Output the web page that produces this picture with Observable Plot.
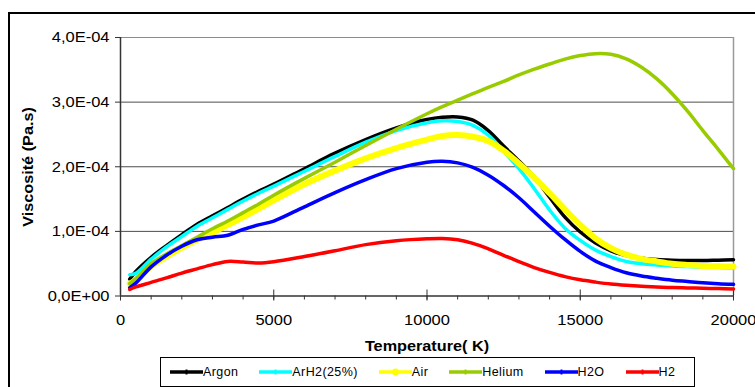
<!DOCTYPE html>
<html>
<head>
<meta charset="utf-8">
<script src="https://cdn.jsdelivr.net/npm/d3@7"></script>
<script src="https://cdn.jsdelivr.net/npm/@observablehq/plot@0.6"></script>
<style>
  html, body { margin: 0; padding: 0; background: #fff; overflow: hidden; width: 755px; height: 387px; }
  #wrap { position: relative; width: 755px; height: 387px; font-family: "Liberation Sans", Arial, sans-serif; }
  #frame { position: absolute; left: 8px; top: 12px; width: 800px; height: 420px; border: 2px solid #000; pointer-events: none; z-index: 3; }
  #chart { position: absolute; left: 0; top: 0; }
  #legend { position: absolute; left: 160px; top: 357px; width: 535px; height: 30px; border: 1px solid #000; background: #fff;
            box-sizing: border-box; display: flex; align-items: center; padding-left: 9px; z-index: 2; }
  .item { display: flex; align-items: center; margin-right: 21px; }
  .item span { font-size: 12.5px; letter-spacing: 0.4px; color: #000; line-height: 1; }
  .item svg { display: block; }
</style>
</head>
<body>
<div id="wrap">
  <div id="chart"></div>
  <div id="legend"></div>
  <div id="frame"></div>
</div>
<script>
// Temperature grid (K)
const temperatures = [300, 500, 1000, 1500, 2000, 2500, 3000, 3500, 4000, 4500, 5000, 6000, 7000, 8000, 9000, 10000,
  10500, 11000, 11500, 12000, 12500, 13000, 13500, 14000, 14500, 15000, 15500, 16000, 16500, 17000, 17500, 18000,
  18500, 19000, 19500, 20000];

// Viscosity in units of 1e-4 Pa.s
const argon  = [0.26, 0.38, 0.60, 0.78, 0.95, 1.11, 1.24, 1.37, 1.50, 1.62, 1.73, 1.97, 2.21, 2.42, 2.60, 2.73,
  2.765, 2.77, 2.72, 2.56, 2.32, 2.09, 1.84, 1.53, 1.22, 0.99, 0.82, 0.70, 0.625, 0.585, 0.565, 0.555,
  0.55, 0.55, 0.555, 0.56];
const arh2   = [0.33, 0.35, 0.57, 0.76, 0.92, 1.08, 1.21, 1.34, 1.47, 1.59, 1.70, 1.93, 2.16, 2.38, 2.56, 2.68,
  2.71, 2.70, 2.64, 2.49, 2.24, 1.97, 1.66, 1.33, 1.05, 0.86, 0.71, 0.61, 0.535, 0.50, 0.48, 0.465,
  0.455, 0.445, 0.44, 0.435];
const air    = [0.19, 0.25, 0.46, 0.61, 0.75, 0.87, 0.975, 1.10, 1.22, 1.35, 1.48, 1.73, 1.94, 2.13, 2.29, 2.42,
  2.475, 2.49, 2.465, 2.40, 2.25, 2.05, 1.83, 1.59, 1.34, 1.10, 0.89, 0.74, 0.64, 0.575, 0.535, 0.50,
  0.48, 0.465, 0.46, 0.455];
const helium = [0.19, 0.27, 0.50, 0.65, 0.78, 0.91, 1.04, 1.16, 1.29, 1.42, 1.56, 1.82, 2.07, 2.33, 2.58, 2.82,
  2.93, 3.03, 3.13, 3.23, 3.32, 3.42, 3.51, 3.59, 3.665, 3.72, 3.75, 3.74, 3.67, 3.54, 3.36, 3.13,
  2.86, 2.56, 2.27, 1.97];
const h2o    = [0.13, 0.20, 0.45, 0.63, 0.77, 0.87, 0.91, 0.94, 1.03, 1.10, 1.16, 1.38, 1.60, 1.80, 1.97, 2.07,
  2.085, 2.06, 1.99, 1.87, 1.71, 1.52, 1.30, 1.08, 0.875, 0.69, 0.54, 0.44, 0.36, 0.31, 0.275, 0.245,
  0.225, 0.205, 0.19, 0.18];
const h2     = [0.10, 0.14, 0.21, 0.28, 0.355, 0.42, 0.485, 0.535, 0.525, 0.51, 0.53, 0.61, 0.70, 0.795, 0.855, 0.885,
  0.89, 0.87, 0.815, 0.73, 0.63, 0.53, 0.44, 0.365, 0.30, 0.25, 0.215, 0.185, 0.165, 0.15, 0.14, 0.13,
  0.125, 0.12, 0.115, 0.11];

const seriesNames  = ["Argon", "ArH2(25%)", "Air", "Helium", "H2O", "H2"];
const seriesValues = [argon, arh2, air, helium, h2o, h2];
const seriesColors = ["#000000", "#00ffff", "#ffff00", "#99cc00", "#0000ff", "#ff0000"];
const seriesWidths = [3.5, 3.5, 6, 3.5, 3.5, 3.5];

const yTicks = [0, 1, 2, 3, 4];
const xMajorTicks = [0, 5000, 10000, 15000, 20000];
const xMinorTicks = d3.range(0, 20001, 1000);
const yFormat = d => d === 0 ? "0,0E+00" : d.toFixed(1).replace(".", ",") + "E-04";

const lineMarks = seriesNames.map((name, s) => {
  const data = temperatures.map((t, i) => ({T: t, v: seriesValues[s][i], name}));
  return Plot.line(data, {x: "T", y: "v", stroke: seriesColors[s], strokeWidth: seriesWidths[s], curve: "catmull-rom"});
});

const chart = Plot.plot({
  width: 755,
  height: 357,
  marginLeft: 120,
  marginRight: 22,
  marginTop: 37,
  marginBottom: 61.5,
  x: {domain: [0, 20000]},
  y: {domain: [0, 4]},
  style: {fontFamily: '"Liberation Sans", Arial, sans-serif', fontSize: "15px", color: "#000", background: "transparent", overflow: "visible"},
  marks: [
    Plot.ruleY([4], {stroke: "#8c8c8c", strokeWidth: 1}),
    Plot.ruleY([1, 2, 3], {stroke: "#4d4d4d", strokeWidth: 1}),
    Plot.ruleX([20000], {stroke: "#9a9a9a", strokeWidth: 1.5}),
    Plot.axisY({ticks: yTicks, tickSize: 5, tickPadding: 6, tickFormat: yFormat, label: null, stroke: "#333"}),
    Plot.ruleX(xMinorTicks, {x: d => d, y1: 0, y2: 0, insetTop: 0, insetBottom: -4, stroke: "#333"}),
    Plot.ruleX(xMajorTicks, {x: d => d, y1: 0, y2: 0, insetTop: -6, insetBottom: -5, stroke: "#333"}),
    Plot.axisX({ticks: xMajorTicks, tickSize: 0, tickPadding: 18, tickFormat: d => String(d), label: null}),
    ...lineMarks,
    Plot.ruleX([0], {stroke: "#333", strokeWidth: 1.5}),
    Plot.ruleY([0], {stroke: "#333", strokeWidth: 1.5})
  ]
});

document.getElementById("chart").appendChild(chart);

// Slightly widen tick labels, like the original rendering
d3.select(chart).selectAll('g[aria-label="y-axis tick label"] text, g[aria-label="x-axis tick label"] text').each(function() {
  const t = this.getAttribute("transform") || "";
  if (t) this.setAttribute("transform", t + " scale(1.1,1)");
  else {
    const x = this.getAttribute("x") || 0, y = this.getAttribute("y") || 0;
    this.setAttribute("transform", `translate(${x},${y}) scale(1.1,1)`);
    this.removeAttribute("x");
  }
});

// Axis titles
const svg = d3.select(chart);
svg.append("text")
  .attr("transform", "translate(32.5,167) rotate(-90) scale(1.16,1)")
  .attr("text-anchor", "middle")
  .attr("font-weight", "bold")
  .attr("font-size", "14px")
  .attr("fill", "#000")
  .text("Viscosité (Pa.s)");
svg.append("text")
  .attr("transform", "translate(427,351) scale(1.16,1)")
  .attr("text-anchor", "middle")
  .attr("font-weight", "bold")
  .attr("font-size", "14px")
  .attr("fill", "#000")
  .text("Temperature( K)");

// Legend
const legend = d3.select("#legend");
seriesNames.forEach((name, s) => {
  const item = legend.append("div").attr("class", "item");
  const sv = item.append("svg").attr("width", 33).attr("height", 10);
  sv.append("line").attr("x1", 0).attr("x2", 33).attr("y1", 5).attr("y2", 5)
    .attr("stroke", seriesColors[s]).attr("stroke-width", 3.5);
  if (name === "Air") {
    sv.append("circle").attr("cx", 16.5).attr("cy", 5).attr("r", 3.5).attr("fill", seriesColors[s]);
  } else {
    sv.append("rect").attr("x", 15.5).attr("y", 2.5).attr("width", 2).attr("height", 5).attr("fill", seriesColors[s]);
  }
  item.append("span").text(name);
});
</script>
</body>
</html>
